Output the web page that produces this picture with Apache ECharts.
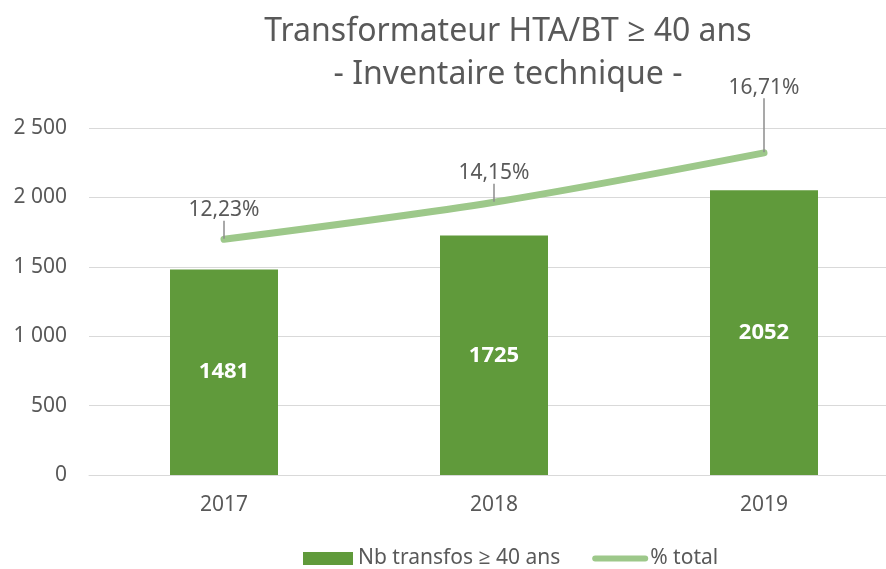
<!DOCTYPE html>
<html><head><meta charset="utf-8">
<script src="https://cdn.jsdelivr.net/npm/echarts@6/dist/echarts.min.js"></script>
<style>html,body{margin:0;padding:0;background:#fff}#c{width:886px;height:569px}</style>
</head><body><div id="c"></div>
<script>
const categories = ['2017', '2018', '2019'];
const nbTransfos = [1481, 1725, 2052];
const pctTotal = [12.23, 14.15, 16.71];
const yTicks = [0, 500, 1000, 1500, 2000, 2500];

const FONT = '"Noto Sans", "Open Sans", sans-serif';
const chart = echarts.init(document.getElementById('c'));
chart.setOption({
  backgroundColor: '#ffffff',
  animation: false,
  textStyle: { fontFamily: FONT },
  title: {
    text: 'Transformateur HTA/BT ≥ 40 ans\n- Inventaire technique -',
    left: 503, top: 5, textAlign: 'center',
    textStyle: { fontFamily: FONT, fontSize: 32, fontWeight: 'normal', color: '#595959', lineHeight: 43 }
  },
  legend: {
    top: 543, left: 298,
    itemWidth: 50, itemHeight: 13, itemGap: 32,
    textStyle: { fontFamily: FONT, fontSize: 21, color: '#595959' },
    data: [
      { name: 'Nb transfos ≥ 40 ans', icon: 'rect' },
      { name: '% total', itemStyle: { opacity: 0 }, lineStyle: { width: 6, cap: 'round' } }
    ]
  },
  grid: { left: 89, width: 810, top: 128, bottom: 94, containLabel: false, outerBoundsMode: 'none' },
  xAxis: {
    type: 'category', data: categories,
    axisLine: { lineStyle: { color: '#d9d9d9' } },
    axisTick: { show: false },
    axisLabel: { fontFamily: FONT, fontSize: 21, color: '#595959', margin: 20 }
  },
  yAxis: [
    {
      type: 'value', min: 0, max: 2500, interval: 500,
      axisLine: { show: false }, axisTick: { show: false },
      splitLine: { lineStyle: { color: '#d9d9d9', width: 1 } },
      axisLabel: {
        fontFamily: FONT, fontSize: 21, color: '#595959', margin: 22,
        formatter: v => String(v).replace(/\B(?=(\d{3})+(?!\d))/g, ' ')
      }
    },
    {
      type: 'value', min: 0, max: 18, show: false,
      splitLine: { show: false }
    }
  ],
  series: [
    {
      name: 'Nb transfos ≥ 40 ans', type: 'bar', data: nbTransfos,
      barWidth: 108, yAxisIndex: 0,
      itemStyle: { color: '#609a3b' },
      label: { show: true, position: 'inside', color: '#ffffff', fontWeight: 'bold', fontSize: 22, fontFamily: FONT }
    },
    {
      name: '% total', type: 'line', data: pctTotal, yAxisIndex: 1,
      smooth: 0.3, symbol: 'circle', symbolSize: 1, showSymbol: true,
      lineStyle: { color: '#9dc88a', width: 7, cap: 'round' },
      itemStyle: { color: '#9dc88a' },
      label: {
        show: true, position: 'top', distance: 18,
        color: '#595959', fontSize: 21, fontFamily: FONT,
        formatter: p => p.value.toFixed(2).replace('.', ',') + '%'
      },
      labelLine: { show: true, lineStyle: { color: '#8c8c8c', width: 1.5 } },
      labelLayout: p => p.dataIndex === 2 ? { dy: -36 } : {}
    }
  ]
});
</script></body></html>
